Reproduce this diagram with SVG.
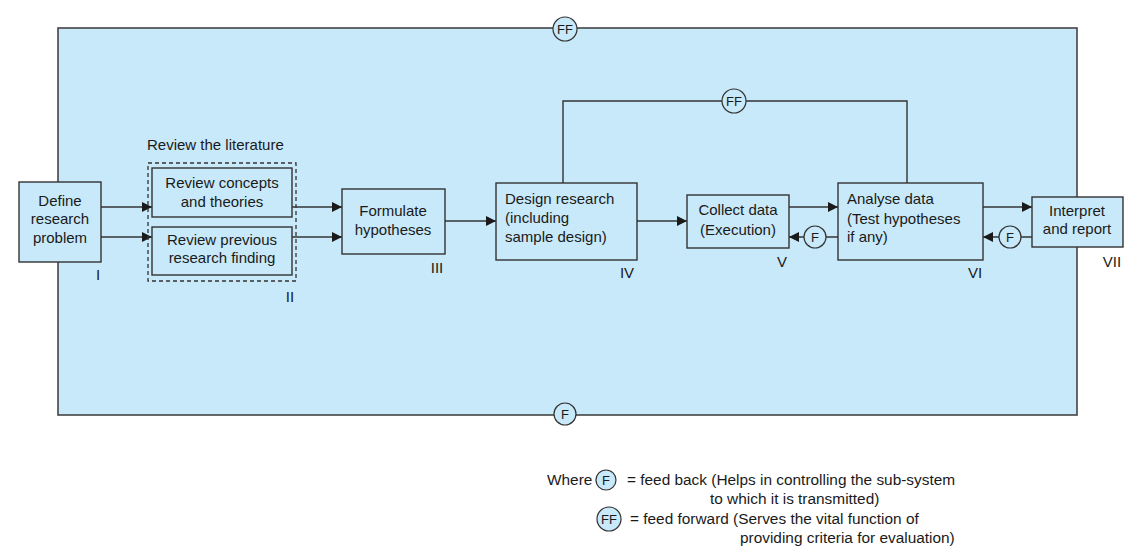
<svg xmlns="http://www.w3.org/2000/svg" width="1133" height="551" viewBox="0 0 1133 551">
<defs>
<style>
.bg{fill:#c8e9f9;stroke:#444;stroke-width:1.6}
.box{fill:#c8e9f9;stroke:#333;stroke-width:1.4}
.dash{fill:none;stroke:#333;stroke-width:1.3;stroke-dasharray:4 3}
.ln{fill:none;stroke:#333;stroke-width:1.4}
.cir{fill:#c8e9f9;stroke:#333;stroke-width:1.2}
text{font-family:"Liberation Sans",Arial,sans-serif;fill:#1a1a1a}
.t{font-size:15px}
.c{text-anchor:middle}
.n{font-size:15px;text-anchor:middle}
.lg{font-size:15.4px}
.ct{font-size:13px;text-anchor:middle}
</style>
<marker id="ah" viewBox="0 0 10 10" refX="10" refY="5" markerWidth="10" markerHeight="10" markerUnits="userSpaceOnUse" orient="auto">
<path d="M0,0 L10,5 L0,10 z" fill="#1a1a1a"/>
</marker>
</defs>
<rect width="1133" height="551" fill="#ffffff"/>
<g id="system">
<rect class="bg" x="58" y="28" width="1019" height="387"/>
</g>
<g id="connectors">
<line class="ln" x1="101" y1="207" x2="152" y2="207" marker-end="url(#ah)"/>
<line class="ln" x1="101" y1="237" x2="152" y2="237" marker-end="url(#ah)"/>
<line class="ln" x1="292" y1="207" x2="342" y2="207" marker-end="url(#ah)"/>
<line class="ln" x1="292" y1="237" x2="342" y2="237" marker-end="url(#ah)"/>
<line class="ln" x1="445" y1="221" x2="496" y2="221" marker-end="url(#ah)"/>
<line class="ln" x1="637" y1="221" x2="687" y2="221" marker-end="url(#ah)"/>
<line class="ln" x1="789" y1="207" x2="838" y2="207" marker-end="url(#ah)"/>
<line class="ln" x1="983" y1="207" x2="1032" y2="207" marker-end="url(#ah)"/>
<line class="ln" x1="838" y1="237" x2="789" y2="237" marker-end="url(#ah)"/>
<line class="ln" x1="1032" y1="237" x2="983" y2="237" marker-end="url(#ah)"/>
<path class="ln" d="M563,183 V101 H907 V183"/>
</g>
<g id="ff-top"><circle class="cir" cx="565" cy="29" r="12"/><text class="ct" x="565" y="34">FF</text></g>
<g id="f-bottom"><circle class="cir" cx="565" cy="414" r="11"/><text class="ct" x="565" y="419">F</text></g>
<g id="ff-mid"><circle class="cir" cx="734" cy="101" r="12"/><text class="ct" x="734" y="106">FF</text></g>
<g id="f-collect"><circle class="cir" cx="815" cy="237" r="11"/><text class="ct" x="815" y="242">F</text></g>
<g id="f-analyse"><circle class="cir" cx="1010" cy="237" r="11"/><text class="ct" x="1010" y="242">F</text></g>
<g id="define">
<rect class="box" x="19" y="182" width="82" height="80"/>
<text class="t c" x="60" y="206">Define</text>
<text class="t c" x="60" y="224">research</text>
<text class="t c" x="60" y="243">problem</text>
<text class="n" x="98" y="280">I</text>
</g>
<g id="literature">
<text class="t" x="147" y="150">Review the literature</text>
<rect class="dash" x="148" y="163" width="148" height="118"/>
<text class="n" x="290" y="302">II</text>
</g>
<g id="concepts">
<rect class="box" x="152" y="168" width="140" height="49"/>
<text class="t c" x="222" y="188">Review concepts</text>
<text class="t c" x="222" y="207">and theories</text>
</g>
<g id="previous">
<rect class="box" x="152" y="227" width="140" height="48"/>
<text class="t c" x="222" y="245">Review previous</text>
<text class="t c" x="222" y="263">research finding</text>
</g>
<g id="formulate">
<rect class="box" x="342" y="189" width="103" height="65"/>
<text class="t c" x="393" y="216">Formulate</text>
<text class="t c" x="393" y="235">hypotheses</text>
<text class="n" x="437" y="273">III</text>
</g>
<g id="design">
<rect class="box" x="496" y="183" width="141" height="77"/>
<text class="t" x="505" y="204">Design research</text>
<text class="t" x="505" y="223">(including</text>
<text class="t" x="505" y="242">sample design)</text>
<text class="n" x="627" y="278">IV</text>
</g>
<g id="collect">
<rect class="box" x="687" y="195" width="102" height="53"/>
<text class="t c" x="738" y="215">Collect data</text>
<text class="t c" x="738" y="235">(Execution)</text>
<text class="n" x="782" y="267">V</text>
</g>
<g id="analyse">
<rect class="box" x="838" y="183" width="145" height="77"/>
<text class="t" x="847" y="204">Analyse data</text>
<text class="t" x="847" y="224">(Test hypotheses</text>
<text class="t" x="847" y="242">if any)</text>
<text class="n" x="975" y="278">VI</text>
</g>
<g id="interpret">
<rect class="box" x="1032" y="197" width="91" height="50"/>
<text class="t c" x="1077" y="216">Interpret</text>
<text class="t c" x="1077" y="234">and report</text>
<text class="n" x="1112" y="267">VII</text>
</g>
<g id="legend">
<text class="lg" x="547" y="485">Where</text>
<circle class="cir" cx="606" cy="480" r="10"/><text class="ct" x="606" y="485">F</text>
<text class="lg" x="627" y="485">= feed back (Helps in controlling the sub-system</text>
<text class="lg" x="710" y="504">to which it is transmitted)</text>
<circle class="cir" cx="609" cy="519" r="12"/><text class="ct" x="609" y="524">FF</text>
<text class="lg" x="630" y="524">= feed forward (Serves the vital function of</text>
<text class="lg" x="740" y="543">providing criteria for evaluation)</text>
</g>
</svg>
